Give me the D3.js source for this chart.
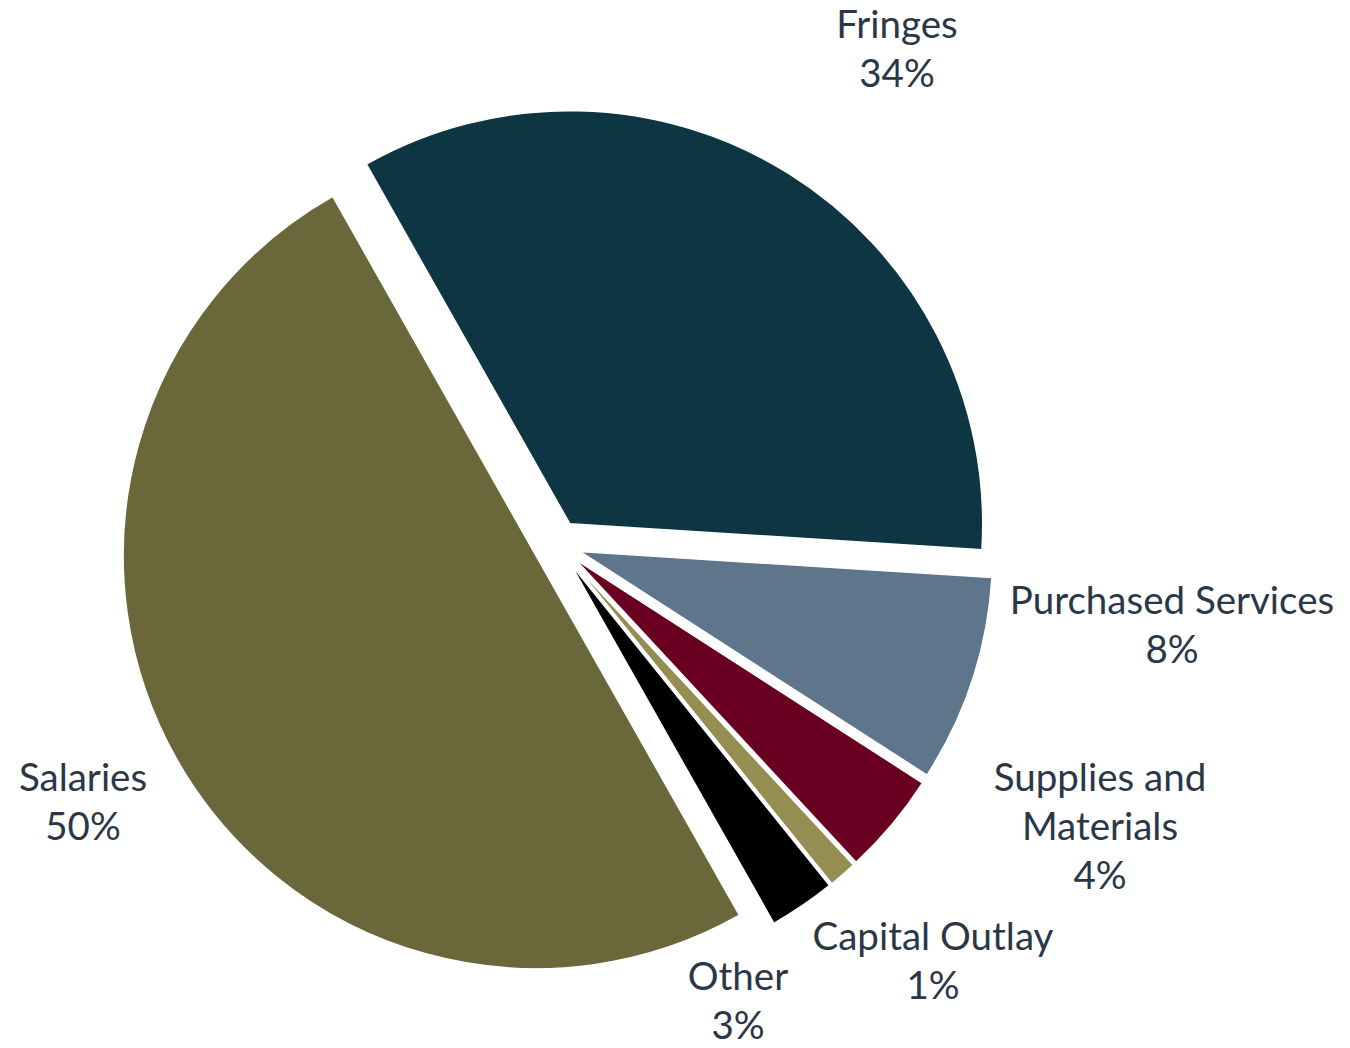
<!DOCTYPE html>
<html>
<head>
<meta charset="utf-8">
<script src="https://cdn.jsdelivr.net/npm/d3@7"></script>
<style>
  html, body { margin: 0; padding: 0; background: #ffffff; }
  svg { display: block; }
  text { font-family: Lato, "Open Sans", "Noto Sans", sans-serif; }
</style>
</head>
<body>
<svg id="chart" width="1350" height="1048"></svg>
<script>
// ---- data ----
const categories = ["Fringes", "Purchased Services", "Supplies and Materials", "Capital Outlay", "Other", "Salaries"];
const labelLines = [["Fringes"], ["Purchased Services"], ["Supplies and", "Materials"], ["Capital Outlay"], ["Other"], ["Salaries"]];
const values = [34.2, 8.1, 4.0, 1.1, 2.6, 50.0];
const percentLabels = ["34%", "8%", "4%", "1%", "3%", "50%"];
const colors = ["#0e3642", "#5e758c", "#6a0021", "#948e52", "#000000", "#6a673a"];

// ---- layout ----
const W = 1350, H = 1048;
const cx = 557, cy = 544;
const radius = 413;
const explode = 24;
const startDeg = -29.5;
// label first-baseline offsets from pie centre
const labelOffsets = [[340, -506], [615, 70], [543, 247], [376, 406], [181, 446], [-474, 247]];
const lineGap = 49;
const fontSize = 38.5;
const textColor = "#2a3747";

const svg = d3.select("#chart");
const g = svg.append("g").attr("transform", `translate(${cx},${cy})`);

const start = startDeg * Math.PI / 180;
const pie = d3.pie().sort(null).value(d => d.v).startAngle(start).endAngle(start + 2 * Math.PI);
const arc = d3.arc().innerRadius(0).outerRadius(radius);

const data = categories.map((c, i) => ({ c, v: values[i], i }));
const arcs = pie(data);

g.selectAll("path.slice")
  .data(arcs)
  .join("path")
  .attr("class", "slice")
  .attr("d", arc)
  .attr("fill", d => colors[d.data.i])
  .attr("stroke", "#ffffff")
  .attr("stroke-width", 1.5)
  .attr("stroke-linejoin", "miter")
  .attr("transform", d => {
    const a = (d.startAngle + d.endAngle) / 2;
    return `translate(${explode * Math.sin(a)},${-explode * Math.cos(a)})`;
  });

const labels = g.selectAll("text.lbl")
  .data(arcs)
  .join("text")
  .attr("class", "lbl")
  .attr("text-anchor", "middle")
  .attr("fill", textColor)
  .attr("font-size", fontSize)
  .attr("x", d => labelOffsets[d.data.i][0])
  .attr("y", d => labelOffsets[d.data.i][1]);

labels.each(function(d) {
  const t = d3.select(this);
  const lines = labelLines[d.data.i].concat([percentLabels[d.data.i]]);
  lines.forEach((ln, k) => {
    t.append("tspan")
      .attr("x", labelOffsets[d.data.i][0])
      .attr("dy", k === 0 ? 0 : lineGap)
      .text(ln);
  });
});
</script>
</body>
</html>
